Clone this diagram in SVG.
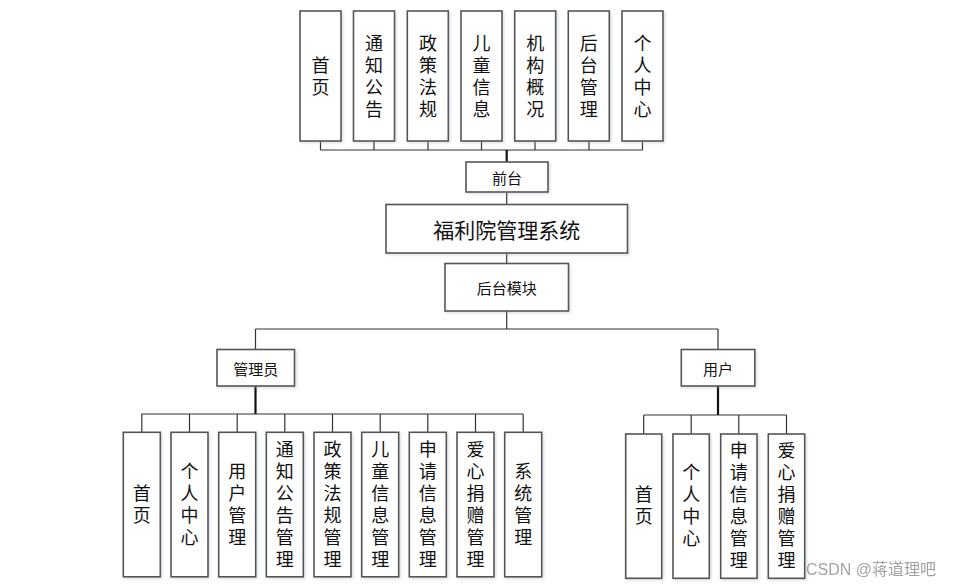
<svg xmlns="http://www.w3.org/2000/svg" width="956" height="588" viewBox="0 0 956 588">
<defs>
<filter id="sh" x="-20%" y="-20%" width="140%" height="140%">
<feDropShadow dx="1.5" dy="1.5" stdDeviation="1" flood-color="#9ab" flood-opacity="0.35"/>
</filter>
<style>
.b{fill:#fff;stroke:#555;stroke-width:1.6;filter:url(#sh)}
.t{font-family:"Noto Sans CJK SC","Noto Sans",sans-serif;fill:#111;text-anchor:middle;dominant-baseline:central}
.v{font-size:18px;writing-mode:vertical-rl;letter-spacing:4px}
.h{font-size:15px}
.c{fill:none;stroke:#333;stroke-width:1.2}
.k{fill:none;stroke:#111;stroke-width:2.2}
.w{font-family:"Liberation Sans","Noto Sans CJK SC",sans-serif;font-size:16px;fill:#999;opacity:0.9}
</style>
</defs>
<rect width="956" height="588" fill="#fff"/>
<g id="connectors">
<path class="c" d="M320.5 141V150M374 141V150M428 141V150M481.5 141V150M535 141V150M589 141V150M642.5 141V150M320.5 150H642.5"/>
<path class="k" d="M506.7 150V162"/>
<path class="c" d="M506.7 192V204M506.7 253V263M506.7 311V329M255.5 329H718M255.5 329V349M718 329V349"/>
<path class="k" d="M255.5 386V414M718 386V415"/>
<path class="c" d="M141.8 414H523.2M141.8 414V432M189.5 414V432M237.2 414V432M284.8 414V432M332.5 414V432M380.2 414V432M427.8 414V432M475.5 414V432M523.2 414V432"/>
<path class="c" d="M643.7 415H786.5M643.7 415V434M691.2 415V434M738.8 415V434M786.5 415V434"/>
</g>
<g id="top-shouye"><rect class="b" x="300" y="11" width="41" height="130"/><text class="t v" x="320.5" y="78">首页</text></g>
<g id="top-tongzhi"><rect class="b" x="353.5" y="11" width="41" height="130"/><text class="t v" x="374" y="78">通知公告</text></g>
<g id="top-zhengce"><rect class="b" x="407.3" y="11" width="41" height="130"/><text class="t v" x="428" y="78">政策法规</text></g>
<g id="top-ertong"><rect class="b" x="461" y="11" width="41" height="130"/><text class="t v" x="481.5" y="78">儿童信息</text></g>
<g id="top-jigou"><rect class="b" x="514.7" y="11" width="41" height="130"/><text class="t v" x="535.2" y="78">机构概况</text></g>
<g id="top-houtai"><rect class="b" x="568.3" y="11" width="41" height="130"/><text class="t v" x="588.8" y="78">后台管理</text></g>
<g id="top-geren"><rect class="b" x="622" y="11" width="41" height="130"/><text class="t v" x="642.5" y="78">个人中心</text></g>
<g id="qiantai"><rect class="b" x="466" y="162" width="82" height="30"/><text class="t h" x="507" y="177">前台</text></g>
<g id="system"><rect class="b" x="386" y="204.5" width="241.5" height="48.5"/><text class="t" style="font-size:21px" x="506.7" y="229">福利院管理系统</text></g>
<g id="houtai-module"><rect class="b" x="445" y="263.5" width="123.5" height="47.5"/><text class="t h" x="506.7" y="287.5">后台模块</text></g>
<g id="admin"><rect class="b" x="217" y="349.5" width="77.5" height="36.5"/><text class="t h" x="255.7" y="368">管理员</text></g>
<g id="user"><rect class="b" x="681.3" y="349.5" width="73.5" height="36.5"/><text class="t h" x="718" y="368">用户</text></g>
<g id="a-shouye"><rect class="b" x="123.3" y="432.3" width="37" height="144.5"/><text class="t v" x="141.8" y="506">首页</text></g>
<g id="a-geren"><rect class="b" x="171" y="432.3" width="37" height="144.5"/><text class="t v" x="189.5" y="506">个人中心</text></g>
<g id="a-yonghu"><rect class="b" x="218.7" y="432.3" width="37" height="144.5"/><text class="t v" x="237.2" y="506">用户管理</text></g>
<g id="a-tongzhi"><rect class="b" x="266.3" y="432.3" width="37" height="144.5"/><text class="t v" x="284.8" y="506">通知公告管理</text></g>
<g id="a-zhengce"><rect class="b" x="314" y="432.3" width="37" height="144.5"/><text class="t v" x="332.5" y="506">政策法规管理</text></g>
<g id="a-ertong"><rect class="b" x="361.7" y="432.3" width="37" height="144.5"/><text class="t v" x="380.2" y="506">儿童信息管理</text></g>
<g id="a-shenqing"><rect class="b" x="409.3" y="432.3" width="37" height="144.5"/><text class="t v" x="427.8" y="506">申请信息管理</text></g>
<g id="a-aixin"><rect class="b" x="457" y="432.3" width="37" height="144.5"/><text class="t v" x="475.5" y="506">爱心捐赠管理</text></g>
<g id="a-xitong"><rect class="b" x="504.7" y="432.3" width="37" height="144.5"/><text class="t v" x="523.2" y="506">系统管理</text></g>
<g id="u-shouye"><rect class="b" x="625.7" y="434" width="36" height="144.3"/><text class="t v" x="643.7" y="507">首页</text></g>
<g id="u-geren"><rect class="b" x="673" y="434" width="36.3" height="144.3"/><text class="t v" x="691.2" y="507">个人中心</text></g>
<g id="u-shenqing"><rect class="b" x="720.7" y="434" width="36.3" height="144.3"/><text class="t v" x="738.8" y="507">申请信息管理</text></g>
<g id="u-aixin"><rect class="b" x="768.3" y="434" width="36.4" height="144.3"/><text class="t v" x="786.5" y="507">爱心捐赠管理</text></g>
<text class="w" x="806" y="575">CSDN @蒋道理吧</text>
</svg>
